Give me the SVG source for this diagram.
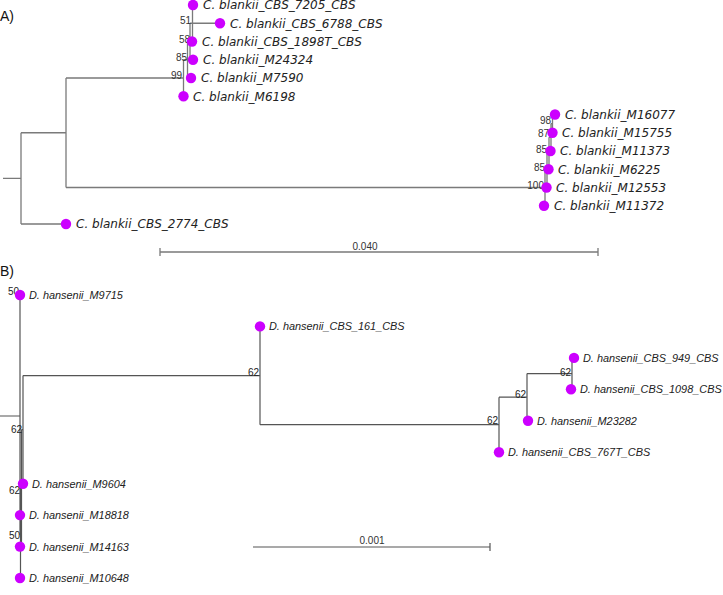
<svg xmlns="http://www.w3.org/2000/svg" width="723" height="595" viewBox="0 0 723 595">
<style>
.bg{fill:#fff}
.la{stroke:#7a7a7a;stroke-width:1.3;fill:none}
.lb{stroke:#555;stroke-width:1.2;fill:none}
.dot{fill:#cc00ff}
.ta{font-family:"DejaVu Sans",sans-serif;font-style:italic;font-size:12px;fill:#222}
.tb{font-family:"Liberation Sans",Arial,sans-serif;font-style:italic;font-size:10.9px;fill:#222}
.sup{font-family:"Liberation Sans",Arial,sans-serif;font-size:10px;fill:#333}
.supb{font-family:"Liberation Sans",Arial,sans-serif;font-size:10px;fill:#222}
.pan{font-family:"Liberation Sans",Arial,sans-serif;font-size:14px;fill:#111}
.sc{font-family:"Liberation Sans",Arial,sans-serif;font-size:10px;fill:#333}
</style>
<rect class="bg" x="0" y="0" width="723" height="595"/>
<text class="pan" x="0" y="21">A)</text>
<text class="pan" x="0" y="276">B)</text>

<g id="connectors">
<!-- Panel A -->
<path class="la" d="M3,178.4 H21 M21,132.75 V224 M21,132.75 H66 M21,224 H65 M66,78 V187.5 M66,78 H183.5 M66,187.5 H545"/>
<path class="la" d="M183.5,59.75 V96.25 M183.5,59.75 H187.5 M187.5,41.5 V78 M187.5,78 H191 M187.5,41.5 H190 M190,23.25 V59.75 M190,59.75 H193 M190,23.25 H192.5 M192.5,5 V41.5 M192.5,23.25 H220"/>
<path class="la" d="M545,170.4 V205.75 M545,170.4 H547 M545,205.75 H544 M547,153.3 V187.5 M547,153.3 H549 M549,137.3 V169.25 M549,137.3 H551 M551,123.6 V151 M551,123.6 H552.5 M552.5,114.5 V132.75 M552.5,114.5 H555"/>
<!-- scale bar A -->
<path class="la" d="M160,252 H598 M160,248 V256 M598,248 V256"/>
<!-- Panel B -->
<path class="lb" d="M0,416 H20 M20,295 V535 M20,533 H20.5 M20.5,488 V578 M20.5,488 H21.5 M21.5,429.6 V546.6 M21.5,429.6 H23 M23,375.6 V483.7 M23,375.6 H260 M260,326.4 V424.7 M260,424.7 H499 M499,397.2 V452.2 M499,397.2 H527 M527,373.6 V420.8 M527,373.6 H572 M572,357.9 V389.3"/>
<!-- scale bar B -->
<path class="lb" d="M253,547 H490 M490,543 V551"/>
</g>

<g id="support-labels">
<text class="sup" x="182" y="79" text-anchor="end">99</text>
<text class="sup" x="187" y="61" text-anchor="end">85</text>
<text class="sup" x="190" y="43" text-anchor="end">58</text>
<text class="sup" x="191" y="24" text-anchor="end">51</text>
<text class="sup" x="551" y="124" text-anchor="end">98</text>
<text class="sup" x="549" y="137" text-anchor="end">87</text>
<text class="sup" x="547" y="153" text-anchor="end">85</text>
<text class="sup" x="545" y="171" text-anchor="end">85</text>
<text class="sup" x="544" y="189" text-anchor="end">100</text>
<text class="supb" x="19" y="295" text-anchor="end">50</text>
<text class="supb" x="259" y="376" text-anchor="end">62</text>
<text class="supb" x="498" y="424" text-anchor="end">62</text>
<text class="supb" x="526" y="398" text-anchor="end">62</text>
<text class="supb" x="571" y="376" text-anchor="end">62</text>
<text class="supb" x="22" y="433" text-anchor="end">62</text>
<text class="supb" x="20" y="494" text-anchor="end">62</text>
<text class="supb" x="20" y="539" text-anchor="end">50</text>
</g>

<g id="A-CBS_7205"><circle class="dot" cx="193" cy="5" r="5.2"/><text class="ta" x="203" y="9.3">C. blankii_CBS_7205_CBS</text></g>
<g id="A-CBS_6788"><circle class="dot" cx="220" cy="23.25" r="5.2"/><text class="ta" x="230" y="27.5">C. blankii_CBS_6788_CBS</text></g>
<g id="A-CBS_1898T"><circle class="dot" cx="192" cy="41.5" r="5.2"/><text class="ta" x="202" y="45.8">C. blankii_CBS_1898T_CBS</text></g>
<g id="A-M24324"><circle class="dot" cx="193" cy="59.75" r="5.2"/><text class="ta" x="203" y="64">C. blankii_M24324</text></g>
<g id="A-M7590"><circle class="dot" cx="191" cy="78" r="5.2"/><text class="ta" x="201" y="82.3">C. blankii_M7590</text></g>
<g id="A-M6198"><circle class="dot" cx="183.5" cy="96.25" r="5.2"/><text class="ta" x="193" y="100.5">C. blankii_M6198</text></g>
<g id="A-M16077"><circle class="dot" cx="555" cy="114.5" r="5.2"/><text class="ta" x="565" y="118.8">C. blankii_M16077</text></g>
<g id="A-M15755"><circle class="dot" cx="552.5" cy="132.75" r="5.2"/><text class="ta" x="562" y="137">C. blankii_M15755</text></g>
<g id="A-M11373"><circle class="dot" cx="550.5" cy="151" r="5.2"/><text class="ta" x="560" y="155.3">C. blankii_M11373</text></g>
<g id="A-M6225"><circle class="dot" cx="548.5" cy="169.25" r="5.2"/><text class="ta" x="558" y="173.5">C. blankii_M6225</text></g>
<g id="A-M12553"><circle class="dot" cx="546.5" cy="187.5" r="5.2"/><text class="ta" x="556" y="191.8">C. blankii_M12553</text></g>
<g id="A-M11372"><circle class="dot" cx="544" cy="205.75" r="5.2"/><text class="ta" x="554" y="210">C. blankii_M11372</text></g>
<g id="A-CBS_2774"><circle class="dot" cx="66" cy="224" r="5.2"/><text class="ta" x="76" y="228.3">C. blankii_CBS_2774_CBS</text></g>
<text class="sc" x="365" y="250" text-anchor="middle">0.040</text>

<g id="B-M9715"><circle class="dot" cx="20" cy="295" r="5.2"/><text class="tb" x="29" y="299">D. hansenii_M9715</text></g>
<g id="B-CBS_161"><circle class="dot" cx="260" cy="326.4" r="5.2"/><text class="tb" x="269" y="330.4">D. hansenii_CBS_161_CBS</text></g>
<g id="B-CBS_949"><circle class="dot" cx="574" cy="357.9" r="5.2"/><text class="tb" x="583" y="361.9">D. hansenii_CBS_949_CBS</text></g>
<g id="B-CBS_1098"><circle class="dot" cx="571" cy="389.3" r="5.2"/><text class="tb" x="580" y="393.3">D. hansenii_CBS_1098_CBS</text></g>
<g id="B-M23282"><circle class="dot" cx="528" cy="420.8" r="5.2"/><text class="tb" x="537" y="424.8">D. hansenii_M23282</text></g>
<g id="B-CBS_767T"><circle class="dot" cx="499" cy="452.2" r="5.2"/><text class="tb" x="508" y="456.2">D. hansenii_CBS_767T_CBS</text></g>
<g id="B-M9604"><circle class="dot" cx="23" cy="483.7" r="5.2"/><text class="tb" x="32" y="487.7">D. hansenii_M9604</text></g>
<g id="B-M18818"><circle class="dot" cx="20" cy="515.1" r="5.2"/><text class="tb" x="29" y="519.1">D. hansenii_M18818</text></g>
<g id="B-M14163"><circle class="dot" cx="20" cy="546.6" r="5.2"/><text class="tb" x="29" y="550.6">D. hansenii_M14163</text></g>
<g id="B-M10648"><circle class="dot" cx="20" cy="578" r="5.2"/><text class="tb" x="29" y="582">D. hansenii_M10648</text></g>
<text class="sc" x="372" y="544" text-anchor="middle" font-size="8">0.001</text>
</svg>
